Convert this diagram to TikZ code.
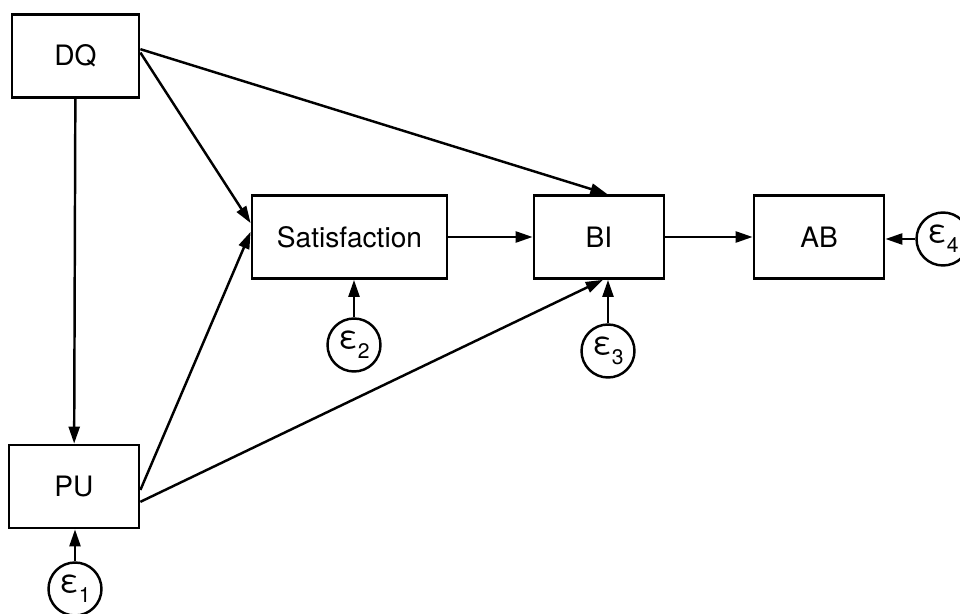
\documentclass[tikz,border=0pt]{standalone}
\usepackage{fontspec}
\setmainfont{TeX Gyre Heros}
\usetikzlibrary{arrows.meta,positioning}
\newcommand{\errsub}[1]{\raisebox{-0.6ex}{\fontsize{12}{13}\selectfont #1}}

\begin{document}
\begin{tikzpicture}[
  x=0.02cm,y=-0.02cm,
  var/.style={draw,line width=1.6pt,minimum height=1.66cm,inner sep=0pt,font=\fontsize{16}{18}\selectfont},
  err/.style={circle,draw,line width=1.4pt,minimum size=1.06cm,inner sep=0pt,font=\fontsize{18}{20}\selectfont},
  effect/.style={line width=1.4pt,-{Triangle[length=3.4mm,width=2.2mm]}}
]
\useasboundingbox (0,0) rectangle (960,614);
% observed variables
\node[var,minimum width=2.54cm] (DQ) at (75.5,56) {DQ};
\node[var,minimum width=3.9cm] (Sat) at (349.5,237) {Satisfaction};
\node[var,minimum width=2.6cm] (BI) at (599,237) {BI};
\node[var,minimum width=2.6cm] (AB) at (819,237) {AB};
\node[var,minimum width=2.6cm] (PU) at (74,486.5) {PU};
% error terms
\foreach \n/\x/\y in {1/75/589,2/354/345,3/608/351,4/943/239}
  \node[err] (e\n) at (\x,\y) {ε\errsub{\n}};
% paths
\draw[effect] (DQ) -- (PU);
\draw[effect] (DQ.3) -- (Sat.172);
\draw[effect] (DQ.6) -- (BI.79);
\draw[effect] (PU.-3) -- (Sat.177);
\draw[effect] (PU.-13) -- (BI.-85);
\draw[effect] (Sat) -- (BI);
\draw[effect] (BI) -- (AB);
\draw[effect] (e1) -- (e1 |- PU.south);
\draw[effect] (e2) -- (e2 |- Sat.south);
\draw[effect] (e3) -- (e3 |- BI.south);
\draw[effect] (e4) -- (e4 -| AB.east);
\end{tikzpicture}
\end{document}
